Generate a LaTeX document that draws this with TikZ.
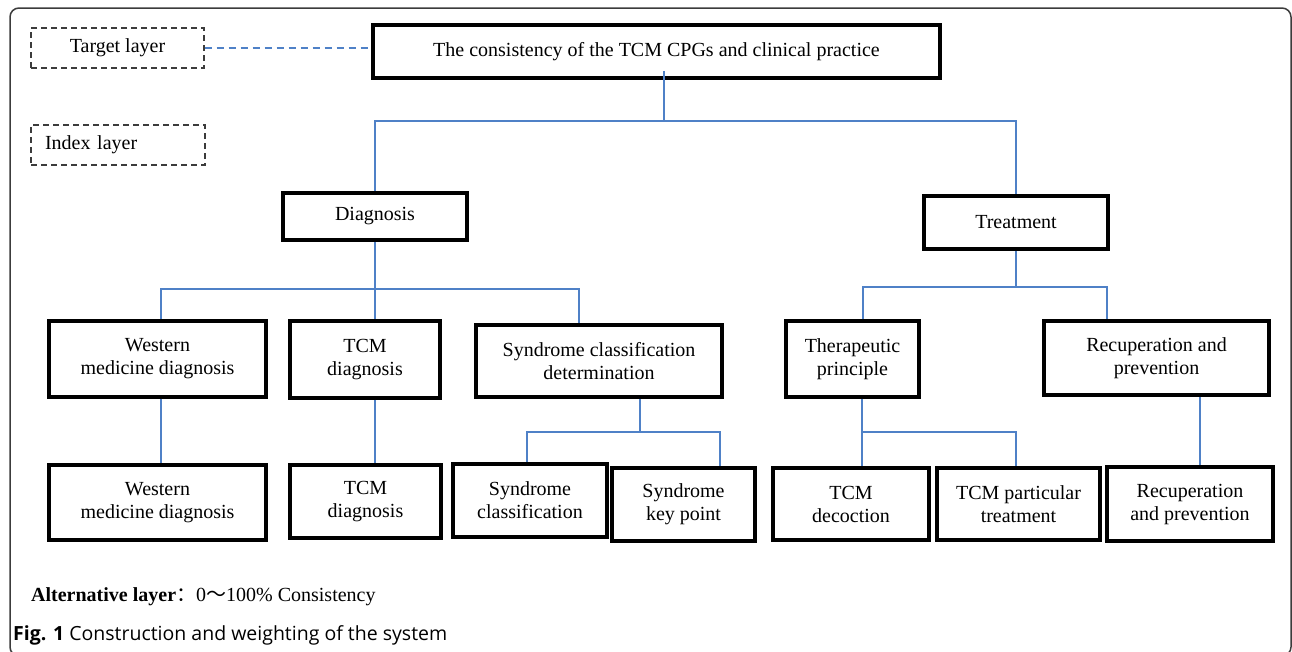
\documentclass[tikz,border=0pt]{standalone}
\usepackage{fontspec}
\setmainfont{Liberation Serif}
\newfontfamily\capfont{Open Sans}
\newfontfamily\cjk{Noto Sans CJK SC}
\definecolor{linkblue}{RGB}{79,129,199}
\definecolor{framegray}{RGB}{60,60,60}
\tikzset{
  box/.style={draw=black, line width=3.6pt, fill=white, inner sep=0pt, align=center,
    font=\fontsize{20}{23}\selectfont},
  layerbox/.style={draw=framegray, dashed, dash pattern=on 6pt off 4pt, line width=1.2pt,
    inner sep=0pt, font=\fontsize{20}{23}\selectfont},
  conn/.style={draw=linkblue, line width=1.2pt},
  dashconn/.style={draw=linkblue, line width=1.4pt, dash pattern=on 7pt off 5pt},
}
\begin{document}
\begin{tikzpicture}[x=1pt,y=-1pt]
\useasboundingbox (0,0) rectangle (1292,651);
% outer frame
\draw[framegray, line width=1.5pt, rounded corners=9pt] (10,8) rectangle (1291,656);

% layer labels
\node[layerbox, minimum width=173, minimum height=40] (target) at (117.5,48) {Target layer};
\node[layerbox, minimum width=174, minimum height=40, text width=146, align=left] (index) at (118,145) {Index layer};

% top
\node[box, minimum width=567, minimum height=53] (top) at (656.5,51.5) {The consistency of the TCM CPGs and clinical practice};

% level 2
\node[box, minimum width=184, minimum height=47] (diag) at (375,216.5) {Diagnosis};
\node[box, minimum width=184, minimum height=53] (treat) at (1016,222.5) {Treatment};

% level 3
\node[box, minimum width=217, minimum height=76] (wmd1) at (157.5,359) {Western\\medicine diagnosis};
\node[box, minimum width=150, minimum height=77] (tcmd1) at (365,359.5) {TCM\\diagnosis};
\node[box, minimum width=246, minimum height=72] (scd) at (599,361) {Syndrome classification\\determination};
\node[box, minimum width=133, minimum height=76] (thp) at (852.5,359) {Therapeutic\\principle};
\node[box, minimum width=225, minimum height=74] (rp1) at (1156.5,358) {Recuperation and\\prevention};

% level 4
\node[box, minimum width=217, minimum height=75] (wmd2) at (157.5,502.5) {Western\\medicine diagnosis};
\node[box, minimum width=151, minimum height=73] (tcmd2) at (365.5,501.5) {TCM\\diagnosis};
\node[box, minimum width=154, minimum height=73] (sc) at (530,500.5) {Syndrome\\classification};
\node[box, minimum width=143, minimum height=73] (skp) at (683.5,504.5) {Syndrome\\key point};
\node[box, minimum width=156, minimum height=72] (tcmdec) at (851,504) {TCM\\decoction};
\node[box, minimum width=163, minimum height=72] (tcmpt) at (1018.5,504) {TCM particular\\treatment};
\node[box, minimum width=166, minimum height=74] (rp2) at (1190,504) {Recuperation\\and prevention};

% connectors
\draw[dashconn] (target.east) -- (target.east -| top.west);
\coordinate (j0) at (664,121);
\draw[conn] ([yshift=9]top.south -| j0) -- (j0);
\draw[conn] (diag.north) |- (j0) -| (treat.north);

\coordinate (j1) at (375,289);
\draw[conn] (diag.south) -- (j1);
\draw[conn] ([xshift=3.5]wmd1.north) |- ([xshift=-20]scd.north |- j1) -- ([xshift=-20]scd.north);
\draw[conn] (j1) -- (j1 |- tcmd1.north);

\coordinate (j2) at (1016,287);
\draw[conn] (treat.south) -- (j2);
\draw[conn] ([xshift=10.5]thp.north) |- ([xshift=-49.5]rp1.north |- j2) -- ([xshift=-49.5]rp1.north);

\draw[conn] ([xshift=3.5]wmd1.south) -- ([xshift=3.5]wmd2.north);
\draw[conn] ([xshift=10]tcmd1.south) -- ([xshift=9.5]tcmd2.north);

\coordinate (j3) at (640,432);
\draw[conn] ([xshift=41]scd.south) -- (j3);
\draw[conn] ([xshift=-3]sc.north) |- ([xshift=36.5]skp.north |- j3) -- ([xshift=36.5]skp.north);

\coordinate (j4) at (862,432);
\draw[conn] ([xshift=9.5]thp.south) -- (j4);
\draw[conn] ([xshift=11]tcmdec.north) |- ([xshift=-2.5]tcmpt.north |- j4) -- ([xshift=-2.5]tcmpt.north);

\draw[conn] ([xshift=43.5]rp1.south) -- ([xshift=10]rp2.north);

% bottom texts
\node[anchor=west, inner sep=0pt, font=\fontsize{20}{23}\selectfont] (alt) at (31,597)
  {\textbf{Alternative layer}{\cjk ：}0{\cjk ～}100\% Consistency};
\node[anchor=west, inner sep=0pt, font=\capfont\fontsize{19.5}{22}\selectfont] (cap) at (13,635)
  {\textbf{Fig. 1} Construction and weighting of the system};
\end{tikzpicture}
\end{document}
